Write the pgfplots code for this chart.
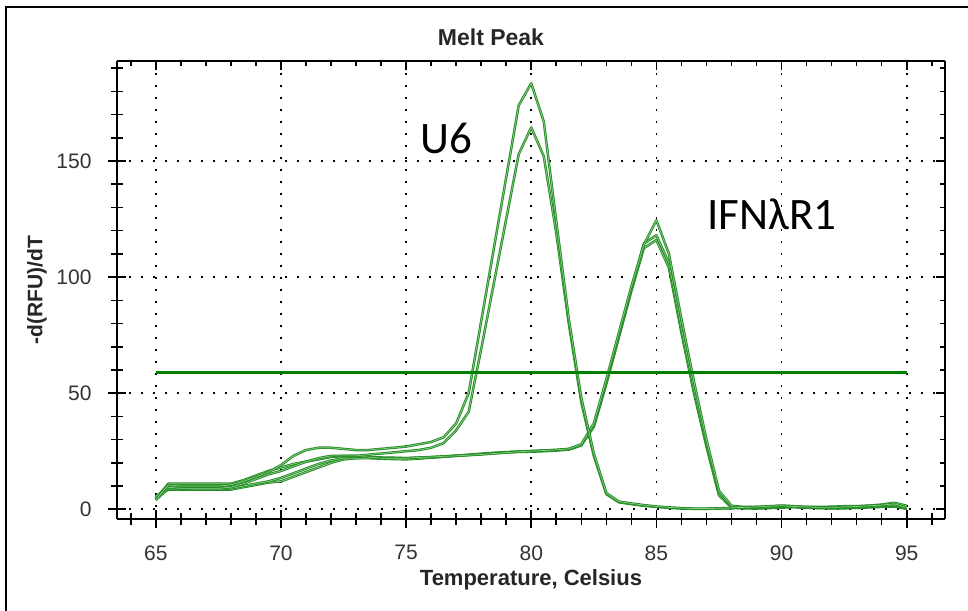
\documentclass[border=0pt]{standalone}
\usepackage{fontspec}
\setmainfont{Liberation Sans}
\newfontfamily\calibri{Carlito}
\usepackage{pgfplots}
\usepackage{pgfplotstable}
\pgfplotsset{compat=1.18}
\definecolor{curve}{RGB}{35,140,35}
\definecolor{curvein}{RGB}{140,205,140}
\definecolor{thr}{RGB}{0,128,0}

\pgfplotstableread{
T    u6a   u6b   ifa   ifb   ifc
65   4     5.5   4.5   4     5
65.5 10.5  9.5   11    9     8.5
66   10    9     11    9     8.5
66.5 10    9     11    8.5   8.5
67   10    9     11    8.5   8.5
67.5 10    9     11    8.5   8.5
68   10.5  9.5   11    9     8.5
68.5 12    11    12.5  10    9.5
69   14    13    14.5  11    10.5
69.5 16    15    16.5  12    11.5
70   19    16.5  18    13.5  12
70.5 23    18.5  19.5  15.5  14
71   25.5  20.5  20.5  17.5  16
71.5 26.5  22    21.5  19.5  18
72   26.5  23    22.5  21    20
72.5 26    23    23    22    21.5
73   25.5  23    23    22    22
73.5 25.5  23.5  22.5  22    22.3
74   26    24    22    21.8  22.3
74.5 26.5  24.5  22    21.6  22.2
75   27    25    22    21.5  22
75.5 28    25.5  22.3  21.8  22.2
76   29    26.5  22.5  22.2  22.4
76.5 31    28.5  22.8  22.6  22.7
77   37    34    23    23    23.1
77.5 50    42    23.3  23.4  23.5
78   81    69    23.6  23.8  23.9
78.5 112   97    24    24.2  24.3
79   143   125   24.4  24.5  24.6
79.5 174   153   24.8  24.7  24.9
80   183.5 164.5 25    24.8  25.1
80.5 167   152   25.3  25    25.3
81   124   119   25.6  25.3  25.5
81.5 82    80    26    25.7  25.9
82   48    46    28    27.5  27.8
82.5 24    23    37    36    35.5
83   7     6.5   56    55    54
83.5 3.3   3     76    75    74
84   2.5   2.2   96    95    94
84.5 1.8   1.5   114   114.5 112.5
85   1.2   1.0   124.5 118   116
85.5 0.8   0.6   110   106   104
86   0.5   0.3   82    78    76
86.5 0.3   0.2   55    52    50
87   0.3   0.2   30    28    27
87.5 0.4   0.3   8     7     6
88   0.6   0.4   1.5   1     0.8
88.5 0.8   0.6   1.0   0.6   0.4
89   1.0   0.8   1.0   0.5   0.3
89.5 1.3   1.0   1.2   0.8   0.5
90   1.5   1.2   1.6   1.0   0.7
90.5 1.2   1.0   1.3   1.1   0.9
91   1.0   0.8   1.0   0.8   0.7
91.5 0.8   0.6   1.0   0.6   0.5
92   0.8   0.6   1.1   0.5   0.4
92.5 1.0   0.7   1.3   0.6   0.4
93   1.2   0.9   1.3   0.8   0.6
93.5 1.5   1.2   1.6   1.0   0.8
94   1.8   1.5   2.0   1.3   1.0
94.5 2.3   1.8   2.8   1.6   1.2
95   0.8   0.5   1.5   0.3   0.2
}\melt

\begin{document}
\begin{tikzpicture}
\useasboundingbox (0,0) rectangle (968pt,610pt);
\draw[line width=2.5pt, black] (6pt,-5pt) -- (6pt,603pt) -- (975pt,603pt);
\node[font=\bfseries\fontsize{23}{26}\selectfont, text=black!85] at (491pt,573pt) {Melt Peak};

\begin{axis}[
  at={(117pt,91pt)}, anchor=south west,
  width=828pt, height=458pt, scale only axis,
  xmin=63.45, xmax=96.53, ymin=-4.2, ymax=193.1,
  separate axis lines,
  axis line style={line width=2pt, black},
  xtick={65,70,...,95}, ytick={0,50,100,150},
  minor xtick={64,...,96}, minor ytick={10,20,...,190},
  xtick pos=left, ytick pos=left,
  tick align=center,
  major tick length=18pt, minor tick length=11pt,
  tick style={line width=1.6pt, black},
  grid=major,
  major grid style={black, line width=1.6pt, dash pattern=on 1.6pt off 10.4pt},
  /pgf/number format/assume math mode=true,
  tick label style={font=\fontsize{21}{24}\selectfont, text=black!80},
  xticklabel style={yshift=-14pt},
  yticklabel style={xshift=-13pt},
  xlabel={Temperature, Celsius},
  ylabel={-d(RFU)/dT},
  every axis x label/.style={at={(axis description cs:0.5,0)}, anchor=center, yshift=-61pt, font=\bfseries\fontsize{22}{25}\selectfont, text=black!85},
  every axis y label/.style={at={(axis description cs:-0.0966,0.5)}, anchor=center, rotate=90, font=\bfseries\fontsize{21}{24}\selectfont, text=black!85},
  every axis plot/.append style={line join=round},
]
\addplot[curve, line width=0.9pt, double=curvein, double distance=0.7pt] table[x=T, y=ifc] {\melt};
\addplot[curve, line width=0.9pt, double=curvein, double distance=0.7pt] table[x=T, y=ifb] {\melt};
\addplot[curve, line width=0.9pt, double=curvein, double distance=0.7pt] table[x=T, y=ifa] {\melt};
\addplot[curve, line width=0.9pt, double=curvein, double distance=0.7pt] table[x=T, y=u6b] {\melt};
\addplot[curve, line width=0.9pt, double=curvein, double distance=0.7pt] table[x=T, y=u6a] {\melt};
\addplot[thr, line width=3pt] coordinates {(65,59) (95,59)};
\node[anchor=base west, inner sep=0pt, font=\calibri\fontsize{45}{50}\selectfont] at (axis cs:75.56,153.4) {U6};
\node[anchor=base west, inner sep=0pt, font=\calibri\fontsize{45}{50}\selectfont] at (axis cs:87.03,120.7) {IFNλR1};
\end{axis}

\begin{axis}[
  at={(117pt,91pt)}, anchor=south west,
  width=828pt, height=458pt, scale only axis,
  xmin=63.45, xmax=96.53, ymin=-4.2, ymax=193.1,
  separate axis lines,
  axis line style={line width=2pt, black},
  xtick={65,70,...,95}, ytick={0,50,100,150},
  minor xtick={64,...,96}, minor ytick={10,20,...,190},
  xtick pos=right, ytick pos=right,
  tick align=inside,
  major tick length=9pt, minor tick length=5pt,
  tick style={line width=1.6pt, black},
  xticklabels={}, yticklabels={},
]
\end{axis}
\end{tikzpicture}
\end{document}
